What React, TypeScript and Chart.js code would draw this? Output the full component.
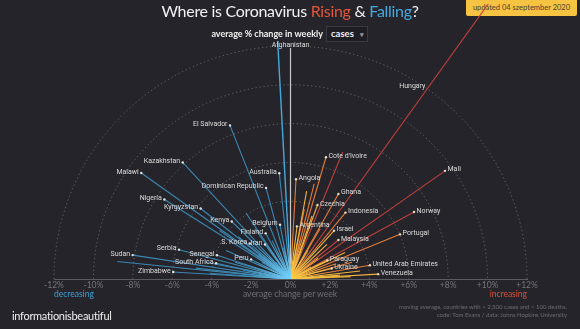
import React, { useEffect, useRef } from "react";
import { Chart, registerables } from "chart.js";

Chart.register(...registerables);

// ---- data (average % change per week; endpoints in % units) ----
const FALLING_NAMES = [
  "Afghanistan", "El Salvador", "Kazakhstan", "Malawi", "Nigeria", "Kyrgyzstan",
  "Australia", "Dominican Republic", "Kenya", "Belgium", "Finland", "S. Korea",
  "Iran", "Serbia", "Sudan", "Senegal", "Peru", "South Africa", "Zimbabwe",
  "", "", "", "", "", "", "", "", "", "", "", "", "", "", "", "",
];
const FALLING_X = [
  -0.65, -3.07, -5.47, -7.57, -6.4, -4.56, -0.57, -1.24, -2.98, -0.53, -1.26, -2.07,
  -1.3, -5.66, -8.01, -3.73, -2.0, -3.78, -5.95,
  -8.79, -2.26, -1.8, -2.65, -3.27, -4.3, -4.8, -2.81, -1.45, -0.93, -0.74, -3.6,
  -1.62, -2.4, -4.1, -0.35,
];
const FALLING_Y = [
  12.23, 7.91, 6.0, 5.46, 4.09, 3.63, 5.45, 4.69, 2.96, 2.79, 2.35, 1.83,
  1.78, 1.51, 1.23, 1.22, 1.01, 0.81, 0.36,
  0.9, 3.4, 2.59, 2.18, 1.47, 0.86, 0.56, 0.86, 0.86, 1.98, 0.86, 2.5,
  1.25, 0.45, 0.3, 1.6,
];

const RISING_NAMES = [
  "Cote d'Ivoire", "Angola", "Ghana", "Czechia", "Indonesia", "Argentina", "Israel",
  "Malaysia", "Paraguay", "Ukraine", "United Arab Emirates", "Venezuela", "Portugal",
  "Norway", "Mali", "Hungary",
  "", "", "", "", "", "", "", "", "", "", "", "", "", "", "", "", "",
];
const RISING_X = [
  1.8, 0.28, 2.43, 1.37, 2.79, 0.33, 2.21, 2.43, 1.87, 2.09, 4.03, 4.45, 5.56,
  6.27, 7.84, 11.05,
  0.82, 2.65, 1.09, 1.5, 1.85, 2.77, 3.12, 3.53, 2.51, 1.4, 0.48, 0.89, 1.2,
  1.05, 2.3, 0.7, 3.05,
];
const RISING_Y = [
  6.27, 5.14, 4.38, 3.81, 3.42, 2.71, 2.49, 2.01, 0.96, 0.54, 0.71, 0.25, 2.3,
  3.45, 5.57, 15.6,
  4.52, 6.54, 3.25, 2.59, 1.78, 1.37, 0.86, 0.41, 0.2, 1.07, 1.98, 1.47, 4.9,
  0.62, 0.78, 3.6, 0.12,
];
// colour tone of each rising line: 0 yellow, 1 orange, 2 red
const RISING_TONE = [
  1, 1, 1, 0, 1, 0, 0, 2, 0, 0, 1, 0, 1,
  2, 2, 2,
  0, 2, 0, 1, 0, 0, 1, 0, 0, 0, 1, 0, 1,
  0, 1, 1, 0,
];

const ZERO_LINE_TOP = 11.9;
const AFGHAN_LABEL_AT = { x: 0, y: 11.95 };
const HUNGARY_LABEL_AT = { x: 6.97, y: 9.86 };

const X_TICKS = [-12, -10, -8, -6, -4, -2, 0, 2, 4, 6, 8, 10, 12];
const RINGS = [4, 6, 8, 10, 12];

const BG = "#25242b";
const BLUE_CORE = "#74d3ff";
const BLUE_END = "#3b87b1";
const TONES = ["#f1b23c", "#e47b37", "#bf3f3a"];
const WARM_CORE = "#ffcf45";

function gradientFor(chart: any, x: number, y: number, core: string, end: string) {
  const xs = chart.scales?.x;
  const ys = chart.scales?.y;
  if (!xs || !ys || !chart.chartArea) return end;
  const x0 = xs.getPixelForValue(0);
  const y0 = ys.getPixelForValue(0);
  const x1 = xs.getPixelForValue(x);
  const y1 = ys.getPixelForValue(y);
  if (!isFinite(x0 + y0 + x1 + y1)) return end;
  const g = chart.ctx.createLinearGradient(x0, y0, x1, y1);
  const len = Math.hypot(x1 - x0, y1 - y0) || 1;
  const stop = Math.min(0.9, 45 / len);
  g.addColorStop(0, core);
  g.addColorStop(stop, end);
  g.addColorStop(1, end);
  return g;
}

export default function App() {
  const canvasRef = useRef<HTMLCanvasElement | null>(null);

  useEffect(() => {
    const canvas = canvasRef.current;
    if (!canvas) return;

    const datasets: any[] = [];
    FALLING_X.forEach((x, i) => {
      const y = FALLING_Y[i];
      const labelled = !!FALLING_NAMES[i];
      const isAfghan = i === 0;
      datasets.push({
        data: [{ x: 0, y: 0 }, { x, y }],
        showLine: true,
        borderWidth: isAfghan ? 1.4 : 1.1,
        borderColor: (c: any) =>
          gradientFor(c.chart, x, y, BLUE_CORE, isAfghan ? "#45a9dc" : BLUE_END),
        pointRadius: [0, labelled && !isAfghan ? 1.2 : 0],
        pointBackgroundColor: "#e4e4e4",
        pointBorderWidth: 0,
      });
    });
    RISING_X.forEach((x, i) => {
      const y = RISING_Y[i];
      const labelled = !!RISING_NAMES[i] && RISING_NAMES[i] !== "Hungary";
      datasets.push({
        data: [{ x: 0, y: 0 }, { x, y }],
        showLine: true,
        borderWidth: 1.1,
        borderColor: (c: any) => gradientFor(c.chart, x, y, WARM_CORE, TONES[RISING_TONE[i]]),
        pointRadius: [0, labelled ? 1.2 : 0],
        pointBackgroundColor: "#ecdcc0",
        pointBorderWidth: 0,
      });
    });
    datasets.push({
      data: [{ x: 0, y: 0 }, { x: 0, y: ZERO_LINE_TOP }],
      showLine: true,
      borderWidth: 1.2,
      borderColor: "#c9c9cc",
      pointRadius: 0,
    });

    const ringsPlugin = {
      id: "rings",
      beforeDatasetsDraw(chart: any) {
        const { ctx, scales } = chart;
        const x0 = scales.x.getPixelForValue(0);
        const y0 = scales.y.getPixelForValue(0);
        ctx.save();
        ctx.strokeStyle = "rgba(255,255,255,0.28)";
        ctx.lineWidth = 1;
        ctx.setLineDash([1.3, 2.7]);
        RINGS.forEach((r) => {
          const rx = scales.x.getPixelForValue(r) - x0;
          const ry = y0 - scales.y.getPixelForValue(r);
          ctx.beginPath();
          ctx.ellipse(x0, y0, rx, ry, 0, Math.PI, 2 * Math.PI);
          ctx.stroke();
        });
        ctx.restore();
      },
    };

    const labelsPlugin = {
      id: "countryLabels",
      afterDatasetsDraw(chart: any) {
        const { ctx, scales } = chart;
        ctx.save();
        ctx.font = "7px 'Roboto', sans-serif";
        ctx.fillStyle = "#dcdcdc";
        ctx.textBaseline = "middle";
        const put = (name: string, x: number, y: number, align: CanvasTextAlign) => {
          const px = scales.x.getPixelForValue(x);
          const py = scales.y.getPixelForValue(y);
          ctx.textAlign = align;
          const dx = align === "right" ? -2.5 : align === "left" ? 2.5 : 0;
          ctx.fillText(name, px + dx, py - 1.2);
        };
        FALLING_NAMES.forEach((n, i) => {
          if (!n || i === 0) return;
          put(n, FALLING_X[i], FALLING_Y[i], "right");
        });
        RISING_NAMES.forEach((n, i) => {
          if (!n || n === "Hungary") return;
          put(n, RISING_X[i], RISING_Y[i], "left");
        });
        put("Afghanistan", AFGHAN_LABEL_AT.x, AFGHAN_LABEL_AT.y, "center");
        put("Hungary", HUNGARY_LABEL_AT.x, HUNGARY_LABEL_AT.y, "right");
        ctx.restore();
      },
    };

    const chart = new Chart(canvas, {
      type: "scatter",
      data: { datasets },
      options: {
        animation: false,
        responsive: false,
        devicePixelRatio: 1,
        layout: { padding: { left: 54, right: 53, top: 0, bottom: 0 } },
        plugins: { legend: { display: false }, tooltip: { enabled: false } },
        events: [],
        scales: {
          x: {
            type: "linear",
            min: -12,
            max: 12,
            afterBuildTicks: (scale: any) => {
              scale.ticks = X_TICKS.map((v) => ({ value: v }));
            },
            afterFit: (scale: any) => {
              scale.height = 50;
            },
            grid: { display: false, drawTicks: false },
            border: { display: true, color: "#5b5a61", width: 1 },
            ticks: {
              padding: 1,
              color: "#75747b",
              font: { family: "Lato", size: 8.5 },
              callback: (v: any) => (v > 0 ? "+" + v + "%" : v + "%"),
            },
          },
          y: {
            type: "linear",
            display: false,
            min: 0,
            max: 14.16,
          },
        },
      },
      plugins: [ringsPlugin, labelsPlugin],
    } as any);

    return () => chart.destroy();
  }, []);

  const abs = (s: React.CSSProperties): React.CSSProperties => ({
    position: "absolute",
    whiteSpace: "nowrap",
    ...s,
  });

  return (
    <div
      style={{
        position: "fixed",
        left: 0,
        top: 0,
        width: 580,
        height: 329,
        background: BG,
        overflow: "hidden",
        fontFamily: "Lato, sans-serif",
      }}
    >
      <div
        style={abs({
          left: 466,
          top: 0,
          width: 111,
          height: 16,
          background: "#f6c343",
          borderRadius: "0 0 2px 2px",
          color: "#4b4232",
          fontSize: 7.5,
          lineHeight: "15px",
          textAlign: "center",
          zIndex: 0,
        })}
      >
        updated 04 szeptember 2020
      </div>
      <canvas
        ref={canvasRef}
        width={580}
        height={329}
        style={{ position: "absolute", left: 0, top: 0, width: 580, height: 329, zIndex: 1 }}
      />
      <div
        style={abs({
          left: 290,
          top: 1,
          transform: "translateX(-50%)",
          fontSize: 16,
          letterSpacing: -0.3,
          color: "#f2f2f2",
          zIndex: 2,
        })}
      >
        Where is Coronavirus <span style={{ color: "#e2563b" }}>Rising</span> &amp;{" "}
        <span style={{ color: "#45a9dc" }}>Falling</span>?
      </div>
      <div
        style={abs({
          right: 580 - 323,
          top: 28,
          fontSize: 9,
          fontWeight: 700,
          color: "#f0f0f0",
          zIndex: 2,
        })}
      >
        average % change in weekly
      </div>
      <div
        style={abs({
          left: 326,
          top: 26,
          width: 42,
          height: 16,
          boxSizing: "border-box",
          background: "#1e1d23",
          border: "1px solid #3b3a41",
          fontSize: 9.5,
          fontWeight: 700,
          color: "#f0f0f0",
          lineHeight: "14px",
          paddingLeft: 4,
          zIndex: 2,
        })}
      >
        cases
        <span style={{ position: "absolute", left: 33, top: 0, fontSize: 7, color: "#9a9aa0" }}>▾</span>
      </div>
      <div style={abs({ left: 54, top: 289, fontSize: 8.5, color: "#3f9fd4", zIndex: 2 })}>
        decreasing
      </div>
      <div style={abs({ right: 53, top: 289, fontSize: 8.5, color: "#d9513a", zIndex: 2 })}>
        increasing
      </div>
      <div
        style={abs({
          left: 290,
          top: 289,
          transform: "translateX(-50%)",
          fontSize: 8.5,
          color: "#6f6e75",
          zIndex: 2,
        })}
      >
        average change per week
      </div>
      <div
        style={abs({
          right: 13,
          top: 303,
          fontSize: 6,
          lineHeight: "8px",
          color: "#6c6b72",
          textAlign: "right",
          zIndex: 2,
        })}
      >
        moving average, countries with &gt; 2,500 cases and &gt; 100 deaths.
        <br />
        code: Tom Evans / data: Johns Hopkins University
      </div>
      <div
        style={abs({
          left: 12,
          top: 309,
          fontSize: 11,
          letterSpacing: -0.3,
          color: "#f0f0f0",
          zIndex: 2,
        })}
      >
        informationisbeautiful
      </div>
    </div>
  );
}
